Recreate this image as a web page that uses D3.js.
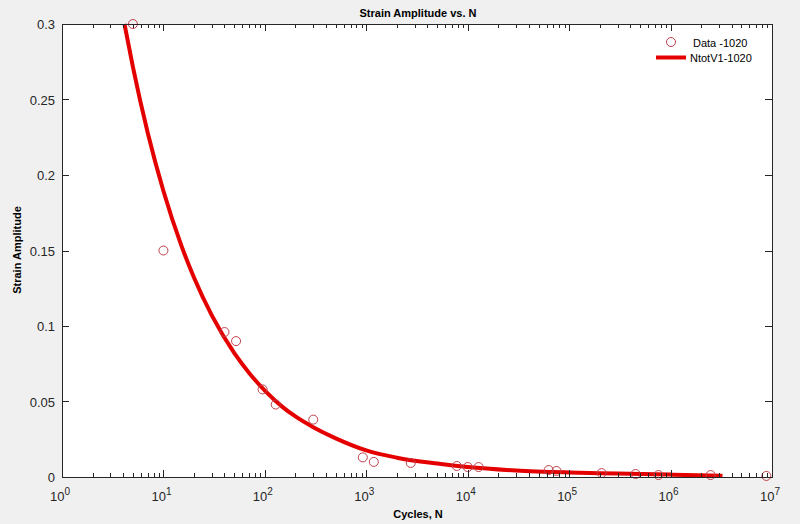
<!DOCTYPE html>
<html><head><meta charset="utf-8">
<script src="https://cdn.jsdelivr.net/npm/d3@7"></script>
<style>body{margin:0;background:#f0f0f0;}svg{display:block;font-family:"Liberation Sans",Arial,sans-serif;}</style>
</head><body><svg id="c" width="800" height="524"></svg>
<script>
const dataN   = [5, 10, 40, 52, 95, 128, 300, 924, 1186, 2744, 7800, 10000, 12800, 62800, 75000, 209000, 452000, 760000, 2480000, 8800000];
const dataEps = [0.300, 0.150, 0.096, 0.090, 0.058, 0.048, 0.038, 0.013, 0.010, 0.0093, 0.0073, 0.0066, 0.0066, 0.0046, 0.0040, 0.0026, 0.0020, 0.0013, 0.0013, 0.0007];
const fitN   = [4.13, 5, 7, 10, 15, 20, 30, 50, 70, 100, 150, 200, 300, 500, 1000, 2000, 5000, 10000, 30000, 100000, 300000, 1000000, 3250000];
const fitEps = [0.300, 0.2716, 0.228, 0.1894, 0.1534, 0.1321, 0.1070, 0.0820, 0.0689, 0.0572, 0.0463, 0.0401, 0.0330, 0.0256, 0.0176, 0.0128, 0.0089, 0.0066, 0.0043, 0.0030, 0.0023, 0.0016, 0.0008];
const yTicks = [0, 0.05, 0.1, 0.15, 0.2, 0.25, 0.3];
const xTickExps = [0, 1, 2, 3, 4, 5, 6, 7];
const titleText = "Strain Amplitude vs. N";
const xLabel = "Cycles, N";
const yLabel = "Strain Amplitude";
const legendLabels = ["Data -1020", "NtotV1-1020"];

const svg = d3.select("#c");
const L = 62, R = 772, T = 24, B = 477;
const x = d3.scaleLog().domain([1, 1e7]).range([L, R]);
const y = d3.scaleLinear().domain([0, 0.3]).range([B, T]);
const red = "#e50000", mk = "#c0404c", axc = "#262626";

svg.append("rect").attr("x", L).attr("y", T).attr("width", R - L).attr("height", B - T).attr("fill", "#fff");

// curve
const pts = fitN.map((n, i) => [n, fitEps[i]]);
svg.append("path").datum(pts)
  .attr("d", d3.line().x(d => x(d[0])).y(d => y(d[1])).curve(d3.curveMonotoneX))
  .attr("fill", "none").attr("stroke", red).attr("stroke-width", 4);

// markers
svg.append("g").selectAll("circle").data(dataN.map((n, i) => [n, dataEps[i]])).join("circle")
  .attr("cx", d => x(d[0])).attr("cy", d => y(d[1])).attr("r", 4.5)
  .attr("fill", "none").attr("stroke", mk).attr("stroke-width", 1);

// box
svg.append("rect").attr("x", L).attr("y", T).attr("width", R - L).attr("height", B - T)
  .attr("fill", "none").attr("stroke", axc).attr("stroke-width", 1).attr("shape-rendering", "crispEdges");

// x ticks (log, inside, top and bottom)
const tg = svg.append("g").attr("stroke", axc).attr("shape-rendering", "crispEdges");
for (let e = 0; e < 7; e++) {
  for (let k = 1; k <= 9; k++) {
    const v = k * Math.pow(10, e);
    const px = Math.round(x(v)) + 0.5;
    const len = k === 1 ? 7 : 4;
    tg.append("line").attr("x1", px).attr("x2", px).attr("y1", B).attr("y2", B - len);
    tg.append("line").attr("x1", px).attr("x2", px).attr("y1", T).attr("y2", T + len);
  }
}
// y ticks
yTicks.forEach(v => {
  const py = Math.round(y(v)) + 0.5;
  tg.append("line").attr("x1", L).attr("x2", L + 7).attr("y1", py).attr("y2", py);
  tg.append("line").attr("x1", R).attr("x2", R - 7).attr("y1", py).attr("y2", py);
});

// y tick labels
svg.append("g").selectAll("text").data(yTicks).join("text")
  .attr("x", L - 7).attr("y", d => y(d) + 5).attr("text-anchor", "end")
  .attr("font-size", 13).attr("fill", axc).text(d => d === 0 ? "0" : String(+d.toFixed(2)));

// x tick labels
const xl = svg.append("g");
xTickExps.forEach(e => {
  const t = xl.append("text").attr("x", x(Math.pow(10, e)) - 2).attr("y", 501)
    .attr("text-anchor", "middle").attr("font-size", 13).attr("fill", axc);
  t.append("tspan").text("10");
  t.append("tspan").attr("dy", -6).attr("font-size", 10).text(e);
});

// titles
svg.append("text").attr("x", 418).attr("y", 17).attr("text-anchor", "middle")
  .attr("font-size", 11).attr("font-weight", "bold").attr("fill", "#000").text(titleText);
svg.append("text").attr("x", 418).attr("y", 518).attr("text-anchor", "middle")
  .attr("font-size", 11).attr("font-weight", "bold").attr("fill", "#000").text(xLabel);
svg.append("text").attr("transform", "translate(21,250) rotate(-90)").attr("text-anchor", "middle")
  .attr("font-size", 11).attr("font-weight", "bold").attr("fill", "#000").text(yLabel);

// legend
const lg = svg.append("g");
lg.append("circle").attr("cx", 671).attr("cy", 42).attr("r", 4.5).attr("fill", "none").attr("stroke", mk);
lg.append("text").attr("x", 693).attr("y", 47).attr("font-size", 11).attr("fill", "#000").text(legendLabels[0]);
lg.append("line").attr("x1", 656).attr("x2", 686).attr("y1", 57.5).attr("y2", 57.5).attr("stroke", red).attr("stroke-width", 4);
lg.append("text").attr("x", 690).attr("y", 62).attr("font-size", 11).attr("fill", "#000").text(legendLabels[1]);
</script></body></html>
